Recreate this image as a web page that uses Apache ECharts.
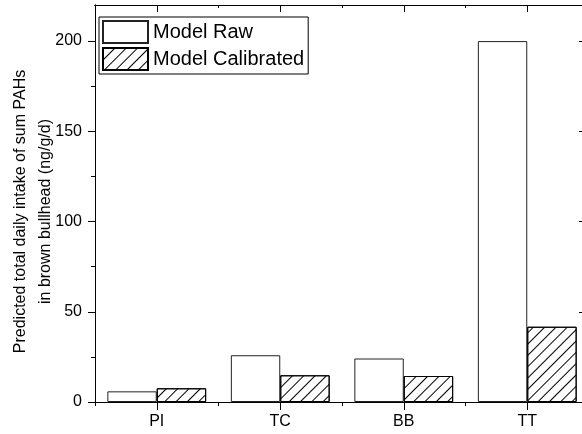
<!DOCTYPE html>
<html>
<head>
<meta charset="utf-8">
<script src="https://cdn.jsdelivr.net/npm/echarts@6/dist/echarts.min.js"></script>
<style>
  html, body { margin: 0; padding: 0; background: #fff; }
  #main { width: 582px; height: 434px; }
</style>
</head>
<body>
<div id="main"></div>
<script>
var sites = ['PI', 'TC', 'BB', 'TT'];
var modelRaw = [5.9, 25.9, 24.1, 200];
var modelCalibrated = [7.6, 14.8, 14.4, 41.7];
var yMajor = [0, 50, 100, 150, 200];
var yMinor = [25, 75, 125, 175];

var font = "'Liberation Sans', Arial, sans-serif";
var chart = echarts.init(document.getElementById('main'));

// x axes: one for ticks at centers, one for short ticks at boundaries
function catAxis(pos, align, len, showLabel) {
  return {
    type: 'category',
    data: sites,
    position: pos,
    axisLine: { show: true, onZero: false, lineStyle: { color: '#000', width: 1 } },
    axisTick: { show: true, alignWithLabel: align, inside: pos == 'top', length: len, lineStyle: { color: '#000' } },
    axisLabel: { show: showLabel, margin: 12, color: '#000', fontSize: 16, fontFamily: font },
    splitLine: { show: false }
  };
}

function valAxis(pos, ticks, len, inside, showLabel) {
  return {
    type: 'value',
    position: pos,
    min: 0,
    max: 220,
    interval: 50,
    axisLine: { show: true, onZero: false, lineStyle: { color: '#000', width: 1 } },
    axisTick: { show: true, inside: inside, length: len, customValues: ticks, lineStyle: { color: '#000' } },
    axisLabel: { show: showLabel, customValues: yMajor, margin: 13, color: '#000', fontSize: 16, fontFamily: font },
    splitLine: { show: false }
  };
}

var leftAxis = valAxis('left', yMajor, 7, false, true);
leftAxis.name = 'Predicted total daily intake of sum PAHs\nin brown bullhead (ng/g/d)';
leftAxis.nameLocation = 'middle';
leftAxis.nameGap = 37;
leftAxis.nameMoveOverlap = false;
leftAxis.nameRotate = 90;
leftAxis.nameTextStyle = { color: '#000', fontSize: 16, fontFamily: font, lineHeight: 25, padding: [0, 16, 0, 0] };

chart.setOption({
  animation: false,
  backgroundColor: '#fff',
  grid: { left: 95, top: 5, width: 494, height: 397, containLabel: false, outerBoundsMode: 'none' },
  legend: {
    orient: 'vertical',
    left: 99,
    top: 17,
    itemWidth: 45,
    itemHeight: 22,
    itemGap: 3,
    padding: [3, 4, 3, 3],
    borderColor: '#000',
    borderWidth: 1,
    icon: 'rect',
    textStyle: { color: '#000', fontSize: 20, fontFamily: font },
    data: ['Model Raw', 'Model Calibrated']
  },
  xAxis: [
    catAxis('bottom', true, 8, true),
    catAxis('bottom', false, 4, false),
    catAxis('top', true, 7, false),
    catAxis('top', false, 3, false)
  ],
  yAxis: [
    leftAxis,
    valAxis('left', yMinor, 4, false, false),
    valAxis('right', [50, 100, 150, 200], 10, true, false)
  ],
  series: [
    {
      name: 'Model Raw',
      type: 'bar',
      data: modelRaw,
      barGap: '0%',
      barCategoryGap: '20%',
      itemStyle: { color: '#fff', borderColor: '#222', borderWidth: 1 }
    },
    {
      name: 'Model Calibrated',
      type: 'bar',
      data: modelCalibrated,
      barGap: '0%',
      barCategoryGap: '20%',
      itemStyle: {
        color: '#fff',
        borderColor: '#000',
        borderWidth: 1,
        decal: {
          symbol: 'rect',
          symbolSize: 1,
          dashArrayX: [1, 0],
          dashArrayY: [1, 7],
          rotation: -Math.PI / 4,
          color: '#000'
        }
      }
    }
  ]
});
</script>
</body>
</html>
